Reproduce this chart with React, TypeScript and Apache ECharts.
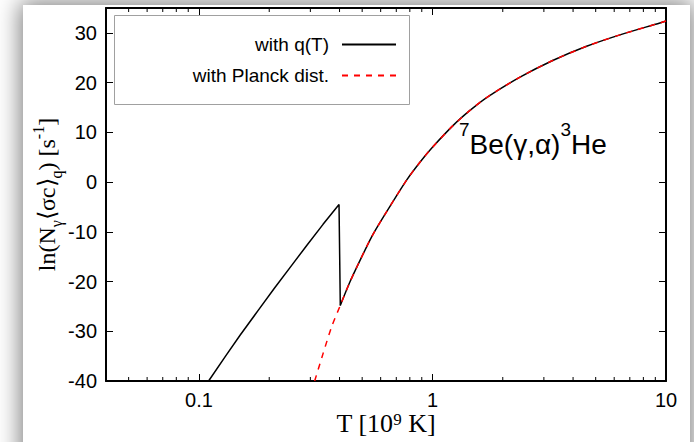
import React, { useEffect, useRef } from "react";
import * as echarts from "echarts";

// q(T) rising branch (T in 10^9 K, ln rate)
const qRiseT = [0.11, 0.13, 0.15, 0.18, 0.21, 0.25, 0.29, 0.34, 0.398];
const qRiseV = [-40, -35.0, -30.8, -25.7, -21.4, -16.7, -12.7, -8.5, -4.5];
// drop at the threshold
const qDropT = [0.398, 0.403];
const qDropV = [-4.5, -24.8];
// common curve (q(T) and Planck coincide above the threshold)
const mainT = [0.403, 0.443, 0.489, 0.549, 0.626, 0.775, 0.884, 1.0, 1.227, 1.447, 1.706, 2.37, 3.29, 4.57, 6.35, 9.42, 10];
const mainV = [-24.8, -20.1, -15.8, -11.0, -6.5, 0.4, 4.0, 7.0, 11.4, 14.4, 17.0, 21.1, 24.5, 27.3, 29.6, 32.0, 32.4];
// Planck low-T branch
const planckLowT = [0.313, 0.3405, 0.37];
const planckLowV = [-40, -34.4, -29.1];

const minorTicks = [0.05, 0.06, 0.07, 0.08, 0.09, 0.2, 0.3, 0.4, 0.5, 0.6, 0.7, 0.8, 0.9, 2, 3, 4, 5, 6, 7, 8, 9];
const xTickLabels: Record<string, string> = { "0.1": "0.1", "1": "1", "10": "10" };

const SANS = "'Liberation Sans', Arial, Helvetica, sans-serif";
const SERIF = "'Liberation Serif', 'Times New Roman', serif";

const zip = (a: number[], b: number[]) => a.map((v, i) => [v, b[i]]);

export default function App() {
  const ref = useRef<HTMLDivElement>(null);
  useEffect(() => {
    if (!ref.current) return;
    const chart = echarts.init(ref.current, undefined, { renderer: "svg" });
    const axisLine = { show: true, onZero: false, lineStyle: { color: "#000", width: 2 } };
    const legendCommon = {
      right: 297,
      align: "right" as const,
      orient: "horizontal" as const,
      itemWidth: 54,
      itemHeight: 14,
      padding: 0,
      selectedMode: false,
      itemStyle: { opacity: 0 },
      textStyle: { fontSize: 19, color: "#000", fontFamily: SANS, padding: [0, 8, 0, 0] },
    };
    chart.setOption({
      animation: false,
      backgroundColor: "transparent",
      grid: { left: 106, right: 28, top: 8, bottom: 61, containLabel: false, outerBoundsMode: "none" },
      legend: [
        { ...legendCommon, data: ["with q(T)"], top: 35 },
        { ...legendCommon, data: ["with Planck dist."], top: 66 },
      ],
      graphic: [
        {
          type: "rect",
          shape: { x: 114.5, y: 15.5, width: 295, height: 89 },
          style: { fill: "none", stroke: "#a0a0a0", lineWidth: 1 },
          silent: true,
        },
        {
          type: "text",
          x: 459,
          y: 120,
          style: {
            text: "{s|7}{b|Be(γ,α)}{s|3}{b|He}",
            rich: {
              s: { fontSize: 19, fontFamily: SANS, fill: "#000", verticalAlign: "top", lineHeight: 20 },
              b: { fontSize: 28, fontFamily: SANS, fill: "#000", lineHeight: 38, verticalAlign: "bottom" },
            },
          },
          silent: true,
        },
      ],
      xAxis: [
        {
          type: "log",
          logBase: 10,
          min: 0.04,
          max: 10,
          position: "bottom",
          axisLine,
          axisTick: { show: true, inside: true, length: 7, lineStyle: { color: "#000", width: 1 } },
          axisLabel: {
            show: true,
            fontSize: 20,
            color: "#000",
            fontFamily: SANS,
            margin: 9,
            showMinLabel: false,
            formatter: (v: number) => xTickLabels[String(v)] ?? "",
          },
          splitLine: { show: false },
          name: "{n|T [10}{sup|9}{n| K]}",
          nameLocation: "middle",
          nameMoveOverlap: false,
          nameGap: 30,
          nameTextStyle: {
            color: "#000",
            fontFamily: SERIF,
            fontSize: 26,
            rich: {
              n: { fontSize: 26, fontFamily: SERIF, color: "#000", lineHeight: 24 },
              sup: { fontSize: 17, fontFamily: SERIF, color: "#000", verticalAlign: "top", lineHeight: 1 },
            },
          },
        },
        {
          type: "log",
          logBase: 10,
          min: 0.04,
          max: 10,
          position: "top",
          axisLine,
          axisTick: { show: true, inside: true, length: 7, lineStyle: { color: "#000", width: 1 } },
          axisLabel: { show: false },
          splitLine: { show: false },
        },
      ],
      yAxis: [
        {
          type: "value",
          min: -40,
          max: 35,
          interval: 10,
          position: "left",
          axisLine,
          axisTick: { show: true, inside: true, length: 7, lineStyle: { color: "#000", width: 1 } },
          axisLabel: { fontSize: 20, color: "#000", fontFamily: SANS, margin: 9, showMaxLabel: false },
          splitLine: { show: false },
          name: "{n|ln(N}{sub|γ}{n|⟨σc⟩}{sub|q}{n|) [s}{sup|-1}{n|]}",
          nameLocation: "middle",
          nameRotate: 90,
          nameMoveOverlap: false,
          nameGap: 42,
          nameTextStyle: {
            color: "#000",
            fontFamily: SERIF,
            fontSize: 24,
            rich: {
              n: { fontSize: 24, fontFamily: SERIF, color: "#000", lineHeight: 34 },
              sub: { fontSize: 16, fontFamily: SERIF, color: "#000", verticalAlign: "bottom", lineHeight: 16 },
              sup: { fontSize: 16, fontFamily: SERIF, color: "#000", verticalAlign: "top", lineHeight: 16 },
            },
          },
        },
        {
          type: "value",
          min: -40,
          max: 35,
          interval: 10,
          position: "right",
          axisLine,
          axisTick: { show: true, inside: true, length: 7, lineStyle: { color: "#000", width: 1 } },
          axisLabel: { show: false },
          splitLine: { show: false },
        },
      ],
      series: [
        {
          name: "with q(T)",
          type: "line",
          data: [...zip(qRiseT, qRiseV), ...zip(qDropT, qDropV).slice(1)],
          symbol: "none",
          lineStyle: { color: "#000", width: 1.5 },
          itemStyle: { color: "#000" },
          z: 2,
        },
        {
          name: "with q(T)",
          type: "line",
          data: zip(mainT, mainV),
          symbol: "none",
          smooth: 0.25,
          lineStyle: { color: "#000", width: 1.5 },
          itemStyle: { color: "#000" },
          z: 2,
        },
        {
          name: "with Planck dist.",
          type: "line",
          data: [...zip(planckLowT, planckLowV), ...zip(mainT, mainV)],
          symbol: "none",
          smooth: 0.25,
          lineStyle: { color: "#ff0000", width: 1.5, type: [6, 6] },
          itemStyle: { color: "#ff0000" },
          z: 3,
        },
        {
          name: "minor ticks",
          type: "custom",
          silent: true,
          clip: false,
          data: minorTicks.map((v) => [v, -40]),
          renderItem: (params: any, api: any) => {
            const x = api.coord([api.value(0), api.value(1)])[0];
            const cs = params.coordSys;
            const b = cs.y + cs.height;
            return {
              type: "group",
              children: [
                { type: "line", shape: { x1: x, y1: b, x2: x, y2: b - 4 }, style: { stroke: "#000", lineWidth: 1 } },
                { type: "line", shape: { x1: x, y1: cs.y, x2: x, y2: cs.y + 4 }, style: { stroke: "#000", lineWidth: 1 } },
              ],
            };
          },
        },
      ],
    });
    return () => chart.dispose();
  }, []);

  return (
    <div style={{ position: "fixed", left: 0, top: 0, width: 694, height: 442, background: "#fff", overflow: "hidden" }}>
      <div
        style={{
          position: "absolute",
          left: 23,
          top: 5,
          width: 667,
          height: 520,
          background: "#fff",
          boxShadow: "0 0 22px 3px rgba(0,0,0,0.5)",
        }}
      />
      <div ref={ref} style={{ position: "absolute", left: 0, top: 0, width: 694, height: 442 }} />
    </div>
  );
}
